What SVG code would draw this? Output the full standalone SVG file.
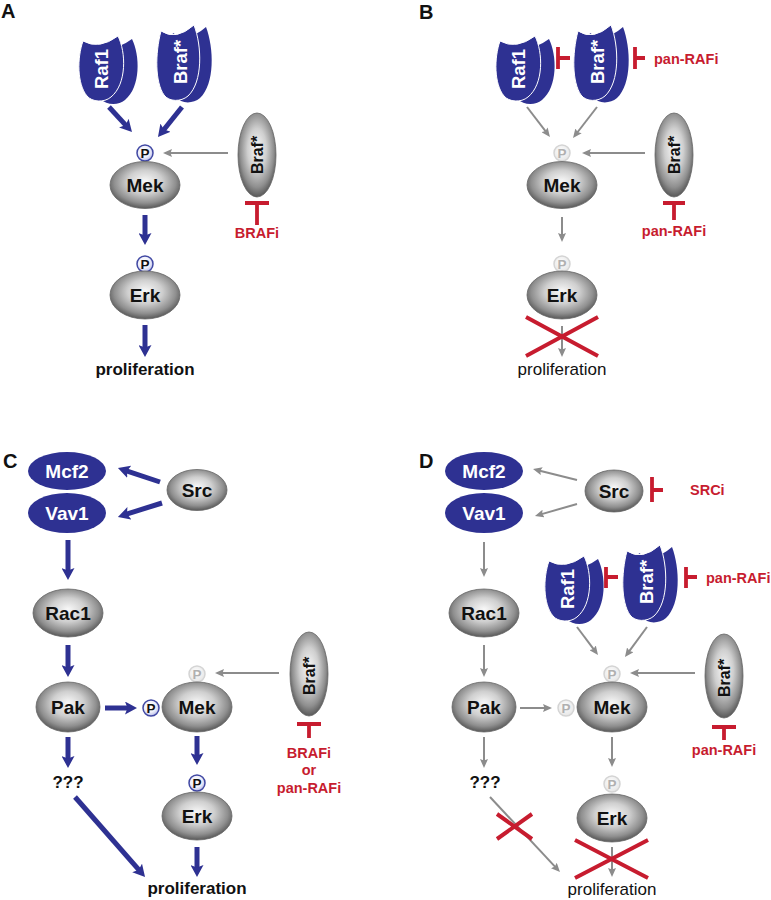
<svg xmlns="http://www.w3.org/2000/svg" width="771" height="900" viewBox="0 0 771 900">
<style>
text{font-family:"Liberation Sans",Arial,sans-serif}
.ab{stroke:#2E3192;stroke-width:5;fill:none;marker-end:url(#mB)}
.ag{stroke:#8c8c8c;stroke-width:2;fill:none;marker-end:url(#mG)}
.inh{stroke:#C71C2F;stroke-width:3.8;fill:none}
.x{stroke:#C71C2F;stroke-width:4;fill:none}
.gn{fill:url(#gGray);stroke:#666;stroke-width:0.8}
.bn{fill:#2E3192}
.bnf{fill:#2E3192;stroke:#fff;stroke-width:1}
.bp{fill:url(#gBP);stroke:#4148a3;stroke-width:1.5}
.fp{fill:url(#gFP);stroke:#d4d4d4;stroke-width:1.5}
.nl{font-size:19px;font-weight:bold;text-anchor:middle;fill:#111}
.wl{font-size:18.5px;font-weight:bold;text-anchor:middle;fill:#fff}
.gl{font-size:16px;font-weight:bold;text-anchor:middle;fill:#111}
.pl{font-size:13.5px;font-weight:bold;text-anchor:middle;fill:#111}
.pf{font-size:13.5px;font-weight:bold;text-anchor:middle;fill:#b0b0b0}
.rt{font-size:14.5px;font-weight:bold;fill:#C71C2F}
.rm{text-anchor:middle}
.pb{font-size:17px;font-weight:bold;text-anchor:middle;fill:#111}
.pr{font-size:17px;text-anchor:middle;fill:#111}
.panel{font-size:20px;font-weight:bold;fill:#111}
</style>
<defs>
<radialGradient id="gGray" cx="0.5" cy="0.45" r="0.55" fx="0.5" fy="0.42">
<stop offset="0" stop-color="#f8f8f8"/>
<stop offset="0.45" stop-color="#cfcfcf"/>
<stop offset="0.8" stop-color="#8f8f8f"/>
<stop offset="1" stop-color="#585858"/>
</radialGradient>
<radialGradient id="gBP" cx="0.45" cy="0.4" r="0.6">
<stop offset="0" stop-color="#ffffff"/>
<stop offset="0.6" stop-color="#f0f1fb"/>
<stop offset="1" stop-color="#b9bde8"/>
</radialGradient>
<radialGradient id="gFP" cx="0.45" cy="0.4" r="0.6">
<stop offset="0" stop-color="#ffffff"/>
<stop offset="1" stop-color="#e6e6e6"/>
</radialGradient>
<marker id="mB" markerUnits="userSpaceOnUse" markerWidth="12" markerHeight="13" viewBox="0 0 12 13" refX="3" refY="6.5" orient="auto">
<path d="M0,0 L12,6.5 L0,13 L2.5,6.5 Z" fill="#2E3192"/>
</marker>
<marker id="mG" markerUnits="userSpaceOnUse" markerWidth="9" markerHeight="8" viewBox="0 0 9 8" refX="2" refY="4" orient="auto">
<path d="M0,0 L9,4 L0,8 L1.5,4 Z" fill="#8c8c8c"/>
</marker>
<path id="rafLobe" d="M83,41 Q99,50 118,36 C126,52 127,84 111,97 C104,103 92,102 87,96 C77,84 77,58 83,41 Z"/>
<path id="brafLobe" d="M161,31 Q176,41 194,25 C202,46 203,82 188,96 C181,102 169,102 164,95 C155,82 155,54 161,31 Z"/>
</defs>

<text class="panel" x="1" y="18">A</text>
<text class="panel" x="419" y="19">B</text>
<text class="panel" x="3" y="468">C</text>
<text class="panel" x="419" y="468">D</text>

<g id="connectors">
<line class="ab" x1="109" y1="107" x2="125.9" y2="125.4"/>
<line class="ab" x1="182" y1="107" x2="163.6" y2="130"/>
<line class="ag" x1="228" y1="153" x2="170" y2="153"/>
<line class="ab" x1="145" y1="215" x2="145" y2="236"/>
<line class="ab" x1="145" y1="325" x2="145" y2="348"/>
<line class="ag" x1="527" y1="107" x2="545.7" y2="131.4"/>
<line class="ag" x1="597" y1="107" x2="577.3" y2="132.5"/>
<line class="ag" x1="645" y1="153" x2="589" y2="153"/>
<line class="ag" x1="562" y1="217" x2="562" y2="235"/>
<line class="ag" x1="562" y1="326" x2="562" y2="350"/>
<line class="ab" x1="160" y1="482" x2="126.5" y2="470.8"/>
<line class="ab" x1="162" y1="503" x2="126.5" y2="514.2"/>
<line class="ab" x1="68" y1="540" x2="68" y2="571"/>
<line class="ab" x1="68" y1="645" x2="68" y2="668"/>
<line class="ab" x1="105" y1="708" x2="128" y2="708"/>
<line class="ab" x1="68" y1="737" x2="68" y2="759"/>
<line class="ab" x1="75" y1="797" x2="139.1" y2="870.2"/>
<line class="ag" x1="279" y1="673" x2="222" y2="673"/>
<line class="ab" x1="197" y1="736" x2="197" y2="756"/>
<line class="ab" x1="197" y1="847" x2="197" y2="868"/>
<line class="ag" x1="577" y1="480" x2="539.8" y2="470.7"/>
<line class="ag" x1="577" y1="504" x2="541.7" y2="514.1"/>
<line class="ag" x1="484" y1="542" x2="484" y2="570"/>
<line class="ag" x1="484" y1="645" x2="484" y2="670"/>
<line class="ag" x1="520" y1="708" x2="545" y2="708"/>
<line class="ag" x1="484" y1="737" x2="484" y2="761"/>
<line class="ag" x1="490" y1="797" x2="555.2" y2="866.9"/>
<line class="ag" x1="577" y1="627" x2="593.8" y2="649.4"/>
<line class="ag" x1="647" y1="627" x2="629.1" y2="651.4"/>
<line class="ag" x1="695" y1="673" x2="637" y2="673"/>
<line class="ag" x1="612" y1="737" x2="612" y2="760"/>
<line class="ag" x1="612" y1="847" x2="612" y2="870"/>
<path class="inh" d="M245,203 H269 M257,203 V225"/>
<path class="inh" d="M558,47 V69 M558,58 H570"/>
<path class="inh" d="M635,47 V69 M635,58 H645"/>
<path class="inh" d="M663,203 H685 M674,203 V220"/>
<path class="inh" d="M297,724 H321 M309,724 V738"/>
<path class="inh" d="M652,477 V502 M652,490 H663"/>
<path class="inh" d="M606,567 V588 M606,577 H618"/>
<path class="inh" d="M686,567 V588 M686,577 H697"/>
<path class="inh" d="M712,727 H736 M724,727 V740"/>
<path class="x" d="M526,317 L598,356 M598,317 L526,356"/>
<path class="x" d="M575,840 L648,878 M648,840 L575,878"/>
<path class="x" d="M497,814 L532,839 M532,814 L497,839"/>
</g>

<g id="A-raf1">
<use href="#rafLobe" class="bn" transform="translate(14,3)"/>
<use href="#rafLobe" class="bnf"/>
<text class="wl" transform="translate(101,69) rotate(-90)" y="6.5">Raf1</text>
</g>
<g id="A-braf">
<use href="#brafLobe" class="bn" transform="translate(12,2)"/>
<use href="#brafLobe" class="bnf"/>
<text class="wl" transform="translate(180,62) rotate(-90)" y="6.5">Braf*</text>
</g>
<g id="A-mek">
<circle class="bp" cx="145" cy="153" r="8"/>
<text class="pl" x="145" y="157.8">P</text>
<ellipse class="gn" cx="145" cy="185" rx="35" ry="23.5"/>
<text class="nl" x="145" y="191.8">Mek</text>
</g>
<g id="A-erk">
<circle class="bp" cx="145" cy="264" r="8"/>
<text class="pl" x="145" y="268.8">P</text>
<ellipse class="gn" cx="145" cy="295" rx="35" ry="24"/>
<text class="nl" x="145" y="301.8">Erk</text>
</g>
<g id="A-brafg">
<ellipse class="gn" cx="257" cy="155" rx="19" ry="42"/>
<text class="gl" transform="translate(257,155) rotate(-90)" y="5.7">Braf*</text>
</g>
<g id="A-brafi"><text class="rt rm" x="257" y="238">BRAFi</text></g>
<g id="A-prolif"><text class="pb" x="145" y="375">proliferation</text></g>

<g id="B-raf1">
<use href="#rafLobe" class="bn" transform="translate(431,3)"/>
<use href="#rafLobe" class="bnf" transform="translate(417,0)"/>
<text class="wl" transform="translate(518,69) rotate(-90)" y="6.5">Raf1</text>
</g>
<g id="B-braf">
<use href="#brafLobe" class="bn" transform="translate(429,2)"/>
<use href="#brafLobe" class="bnf" transform="translate(417,0)"/>
<text class="wl" transform="translate(597,62) rotate(-90)" y="6.5">Braf*</text>
</g>
<g id="B-panrafi-top"><text class="rt" x="654" y="64">pan-RAFi</text></g>
<g id="B-mek">
<circle class="fp" cx="562" cy="153" r="8"/>
<text class="pf" x="562" y="157.8">P</text>
<ellipse class="gn" cx="562" cy="185" rx="35" ry="23.5"/>
<text class="nl" x="562" y="191.8">Mek</text>
</g>
<g id="B-erk">
<circle class="fp" cx="562" cy="264" r="8"/>
<text class="pf" x="562" y="268.8">P</text>
<ellipse class="gn" cx="562" cy="295" rx="35" ry="24"/>
<text class="nl" x="562" y="301.8">Erk</text>
</g>
<g id="B-brafg">
<ellipse class="gn" cx="674" cy="155" rx="19" ry="42"/>
<text class="gl" transform="translate(674,155) rotate(-90)" y="5.7">Braf*</text>
</g>
<g id="B-panrafi"><text class="rt rm" x="674" y="236">pan-RAFi</text></g>
<g id="B-prolif"><text class="pr" x="562" y="375">proliferation</text></g>

<g id="C-mcf2">
<ellipse class="bn" cx="67" cy="471" rx="39" ry="19"/>
<text class="nl" style="fill:#fff" x="67" y="477.8">Mcf2</text>
</g>
<g id="C-vav1">
<ellipse class="bn" cx="67" cy="513" rx="39" ry="20"/>
<text class="nl" style="fill:#fff" x="67" y="519.8">Vav1</text>
</g>
<g id="C-src">
<ellipse class="gn" cx="197" cy="490" rx="30" ry="20.5"/>
<text class="nl" x="197" y="496.8">Src</text>
</g>
<g id="C-rac1">
<ellipse class="gn" cx="68" cy="613" rx="35" ry="24"/>
<text class="nl" x="68" y="619.8">Rac1</text>
</g>
<g id="C-pak">
<ellipse class="gn" cx="68" cy="707" rx="32" ry="25"/>
<text class="nl" x="68" y="713.8">Pak</text>
</g>
<g id="C-mek">
<circle class="fp" cx="197" cy="674" r="8"/>
<text class="pf" x="197" y="678.8">P</text>
<circle class="bp" cx="151" cy="708" r="8"/>
<text class="pl" x="151" y="712.8">P</text>
<ellipse class="gn" cx="197" cy="707" rx="35" ry="25"/>
<text class="nl" x="197" y="713.8">Mek</text>
</g>
<g id="C-brafg">
<ellipse class="gn" cx="309" cy="674" rx="19" ry="42"/>
<text class="gl" transform="translate(309,676) rotate(-90)" y="5.7">Braf*</text>
</g>
<g id="C-inhib">
<text class="rt rm" x="309" y="758">BRAFi</text>
<text class="rt rm" x="309" y="775">or</text>
<text class="rt rm" x="309" y="793">pan-RAFi</text>
</g>
<g id="C-q"><text class="pb" x="68" y="788">???</text></g>
<g id="C-erk">
<circle class="bp" cx="197" cy="783" r="8"/>
<text class="pl" x="197" y="787.8">P</text>
<ellipse class="gn" cx="197" cy="816" rx="35" ry="24"/>
<text class="nl" x="197" y="822.8">Erk</text>
</g>
<g id="C-prolif"><text class="pb" x="197" y="894">proliferation</text></g>

<g id="D-mcf2">
<ellipse class="bn" cx="484" cy="471" rx="39" ry="19"/>
<text class="nl" style="fill:#fff" x="484" y="477.8">Mcf2</text>
</g>
<g id="D-vav1">
<ellipse class="bn" cx="484" cy="513" rx="39" ry="20"/>
<text class="nl" style="fill:#fff" x="484" y="519.8">Vav1</text>
</g>
<g id="D-src">
<ellipse class="gn" cx="614" cy="491" rx="29" ry="21"/>
<text class="nl" x="614" y="497.8">Src</text>
</g>
<g id="D-srci"><text class="rt" x="690" y="495">SRCi</text></g>
<g id="D-raf1">
<use href="#rafLobe" class="bn" transform="translate(480,523)"/>
<use href="#rafLobe" class="bnf" transform="translate(466,520)"/>
<text class="wl" transform="translate(567,589) rotate(-90)" y="6.5">Raf1</text>
</g>
<g id="D-braf">
<use href="#brafLobe" class="bn" transform="translate(478,522)"/>
<use href="#brafLobe" class="bnf" transform="translate(466,520)"/>
<text class="wl" transform="translate(646,582) rotate(-90)" y="6.5">Braf*</text>
</g>
<g id="D-panrafi-top"><text class="rt" x="706" y="583">pan-RAFi</text></g>
<g id="D-rac1">
<ellipse class="gn" cx="484" cy="613" rx="35" ry="24"/>
<text class="nl" x="484" y="619.8">Rac1</text>
</g>
<g id="D-pak">
<ellipse class="gn" cx="484" cy="707" rx="32" ry="25"/>
<text class="nl" x="484" y="713.8">Pak</text>
</g>
<g id="D-mek">
<circle class="fp" cx="612" cy="674" r="8"/>
<text class="pf" x="612" y="678.8">P</text>
<circle class="fp" cx="566" cy="708" r="8"/>
<text class="pf" x="566" y="712.8">P</text>
<ellipse class="gn" cx="612" cy="707" rx="35" ry="25"/>
<text class="nl" x="612" y="713.8">Mek</text>
</g>
<g id="D-brafg">
<ellipse class="gn" cx="724" cy="676" rx="19" ry="42"/>
<text class="gl" transform="translate(724,678) rotate(-90)" y="5.7">Braf*</text>
</g>
<g id="D-panrafi"><text class="rt rm" x="724" y="755">pan-RAFi</text></g>
<g id="D-q"><text class="pb" x="485" y="788">???</text></g>
<g id="D-erk">
<circle class="fp" cx="612" cy="784" r="8"/>
<text class="pf" x="612" y="788.8">P</text>
<ellipse class="gn" cx="612" cy="818" rx="35" ry="24"/>
<text class="nl" x="612" y="824.8">Erk</text>
</g>
<g id="D-prolif"><text class="pr" x="612" y="895">proliferation</text></g>
</svg>
